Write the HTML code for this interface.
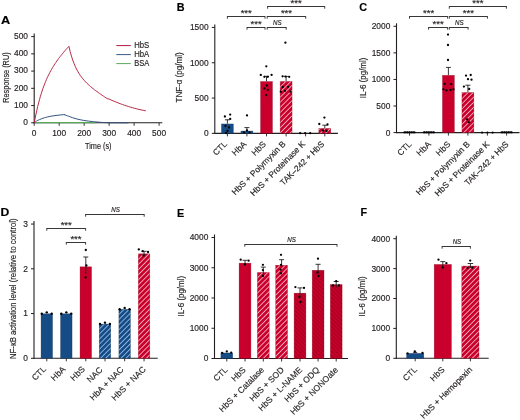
<!DOCTYPE html>
<html><head><meta charset="utf-8"><style>
html,body{margin:0;padding:0;background:#fff;}
svg{display:block;font-family:"Liberation Sans",sans-serif;will-change:transform;}
</style></head><body>
<svg width="520" height="420" viewBox="0 0 520 420" font-family="Liberation Sans, sans-serif">
<defs>
<pattern id="rh" patternUnits="userSpaceOnUse" width="3.6" height="3.6" patternTransform="rotate(45)"><rect width="3.6" height="3.6" fill="#c8002b"/><rect x="0" width="0.9" height="3.6" fill="#f7aebd"/></pattern>
<pattern id="bh" patternUnits="userSpaceOnUse" width="3.6" height="3.6" patternTransform="rotate(45)"><rect width="3.6" height="3.6" fill="#164c85"/><rect x="0" width="0.9" height="3.6" fill="#8fb8e4"/></pattern>
<pattern id="rd" patternUnits="userSpaceOnUse" width="2.9" height="2.9" patternTransform="rotate(-45)"><rect width="2.9" height="2.9" fill="#c8002b"/><rect x="0" width="1.1" height="2.9" fill="#a5001f"/></pattern>
</defs>
<rect width="520" height="420" fill="#fff"/>
<text x="0.9" y="23.8" font-size="11.8" text-anchor="start" fill="#000" stroke="#000" stroke-width="0.16" textLength="9.2" lengthAdjust="spacingAndGlyphs" font-weight="bold">A</text>
<text x="176.8" y="10.5" font-size="10.8" text-anchor="start" fill="#000" stroke="#000" stroke-width="0.16" font-weight="bold">B</text>
<text x="359.3" y="10.8" font-size="10.8" text-anchor="start" fill="#000" stroke="#000" stroke-width="0.16" font-weight="bold">C</text>
<text x="0.6" y="216.2" font-size="10.8" text-anchor="start" fill="#000" stroke="#000" stroke-width="0.16" textLength="8.8" lengthAdjust="spacingAndGlyphs" font-weight="bold">D</text>
<text x="176.9" y="216.5" font-size="10.8" text-anchor="start" fill="#000" stroke="#000" stroke-width="0.16" font-weight="bold">E</text>
<text x="360.4" y="215.9" font-size="10.8" text-anchor="start" fill="#000" stroke="#000" stroke-width="0.16" font-weight="bold">F</text>
<line x1="34.2" y1="33.6" x2="34.2" y2="123.3" stroke="#231f20" stroke-width="1.1"/>
<line x1="31.2" y1="122.8" x2="34.2" y2="122.8" stroke="#231f20" stroke-width="1.0"/>
<text x="28" y="125" font-size="8.4" text-anchor="end" fill="#231f20" stroke="#231f20" stroke-width="0.16">0</text>
<line x1="31.2" y1="105.56" x2="34.2" y2="105.56" stroke="#231f20" stroke-width="1.0"/>
<text x="28" y="107.76" font-size="8.4" text-anchor="end" fill="#231f20" stroke="#231f20" stroke-width="0.16">100</text>
<line x1="31.2" y1="88.32" x2="34.2" y2="88.32" stroke="#231f20" stroke-width="1.0"/>
<text x="28" y="90.52" font-size="8.4" text-anchor="end" fill="#231f20" stroke="#231f20" stroke-width="0.16">200</text>
<line x1="31.2" y1="71.08" x2="34.2" y2="71.08" stroke="#231f20" stroke-width="1.0"/>
<text x="28" y="73.28" font-size="8.4" text-anchor="end" fill="#231f20" stroke="#231f20" stroke-width="0.16">300</text>
<line x1="31.2" y1="53.84" x2="34.2" y2="53.84" stroke="#231f20" stroke-width="1.0"/>
<text x="28" y="56.04" font-size="8.4" text-anchor="end" fill="#231f20" stroke="#231f20" stroke-width="0.16">400</text>
<line x1="31.2" y1="36.6" x2="34.2" y2="36.6" stroke="#231f20" stroke-width="1.0"/>
<text x="28" y="38.8" font-size="8.4" text-anchor="end" fill="#231f20" stroke="#231f20" stroke-width="0.16">500</text>
<line x1="33.7" y1="122.8" x2="162.3" y2="122.8" stroke="#231f20" stroke-width="1.1"/>
<line x1="34.2" y1="122.8" x2="34.2" y2="125.8" stroke="#231f20" stroke-width="0.9"/>
<text x="34.2" y="136" font-size="8.4" text-anchor="middle" fill="#231f20" stroke="#231f20" stroke-width="0.16">0</text>
<line x1="59.18" y1="122.8" x2="59.18" y2="125.8" stroke="#231f20" stroke-width="0.9"/>
<text x="59.18" y="136" font-size="8.4" text-anchor="middle" fill="#231f20" stroke="#231f20" stroke-width="0.16">100</text>
<line x1="84.16" y1="122.8" x2="84.16" y2="125.8" stroke="#231f20" stroke-width="0.9"/>
<text x="84.16" y="136" font-size="8.4" text-anchor="middle" fill="#231f20" stroke="#231f20" stroke-width="0.16">200</text>
<line x1="109.14" y1="122.8" x2="109.14" y2="125.8" stroke="#231f20" stroke-width="0.9"/>
<text x="109.14" y="136" font-size="8.4" text-anchor="middle" fill="#231f20" stroke="#231f20" stroke-width="0.16">300</text>
<line x1="134.12" y1="122.8" x2="134.12" y2="125.8" stroke="#231f20" stroke-width="0.9"/>
<text x="134.12" y="136" font-size="8.4" text-anchor="middle" fill="#231f20" stroke="#231f20" stroke-width="0.16">400</text>
<line x1="159.1" y1="122.8" x2="159.1" y2="125.8" stroke="#231f20" stroke-width="0.9"/>
<text x="159.1" y="136" font-size="8.4" text-anchor="middle" fill="#231f20" stroke="#231f20" stroke-width="0.16">500</text>
<text x="98.3" y="149.2" font-size="8.6" text-anchor="middle" fill="#231f20" stroke="#231f20" stroke-width="0.16" textLength="26.5" lengthAdjust="spacingAndGlyphs">Time (s)</text>
<text x="9" y="77.6" font-size="8.6" text-anchor="middle" fill="#231f20" stroke="#231f20" stroke-width="0.16" transform="rotate(-90 9 77.6)" textLength="50.5" lengthAdjust="spacingAndGlyphs">Response (RU)</text>
<polyline points="34.4,122.6 60,122.6 96,122.6" fill="none" stroke="#5aa85a" stroke-width="1.1" stroke-linejoin="round"/>
<path d="M34.3,122.8 C34.55,122.6 35.23,122 35.8,121.6 C36.37,121.2 36.75,120.87 37.7,120.4 C38.65,119.93 40.38,119.23 41.5,118.8 C42.62,118.37 43.43,118.1 44.4,117.8 C45.37,117.5 46.2,117.27 47.3,117 C48.4,116.73 49.72,116.43 51,116.2 C52.28,115.97 53.67,115.78 55,115.6 C56.33,115.42 57.83,115.23 59,115.1 C60.17,114.97 61.12,114.88 62,114.8 C62.88,114.72 63.92,114.63 64.3,114.6 M64.3,114.6 C64.62,114.73 65.5,115.13 66.2,115.4 C66.9,115.67 67.48,115.83 68.5,116.2 C69.52,116.57 71.02,117.17 72.3,117.6 C73.58,118.03 74.92,118.45 76.2,118.8 C77.48,119.15 78.73,119.43 80,119.7 C81.27,119.97 82.37,120.17 83.8,120.4 C85.23,120.63 86.98,120.88 88.6,121.1 C90.22,121.32 91.93,121.53 93.5,121.7 C95.07,121.87 96.42,121.97 98,122.1 C99.58,122.23 100.87,122.38 103,122.5 C105.13,122.62 106.63,122.73 110.8,122.8 C114.97,122.87 125.13,122.88 128,122.9" fill="none" stroke="#34547f" stroke-width="1.0" stroke-linejoin="miter" stroke-linecap="round"/>
<polyline points="34.3,122.8 35.16,118.25 36.03,114.01 36.89,110.05 37.76,106.34 38.62,102.88 39.49,99.63 40.35,96.59 41.22,93.72 42.09,91.03 42.95,88.49 43.81,86.09 44.68,83.83 45.55,81.68 46.41,79.64 47.27,77.7 48.14,75.86 49,74.1 49.87,72.42 50.73,70.81 51.6,69.26 52.46,67.78 53.33,66.35 54.2,64.97 55.06,63.64 55.92,62.35 56.79,61.1 57.66,59.88 58.52,58.7 59.38,57.55 60.25,56.43 61.12,55.33 61.98,54.26 62.84,53.21 63.71,52.17 64.57,51.16 65.44,50.16 66.31,49.18 67.17,48.21 68.03,47.25 68.9,46.31 70.18,51.63 71.45,56.1 72.73,60 74.01,63.41 75.28,66.43 76.56,69.1 77.84,71.49 79.11,73.63 80.39,75.56 81.67,77.33 82.94,78.94 84.22,80.43 85.5,81.82 86.77,83.12 88.05,84.34 89.33,85.5 90.6,86.61 91.88,87.67 93.16,88.7 94.43,89.69 95.71,90.65 96.99,91.59 98.26,92.52 99.54,93.42 100.82,94.32 102.09,95.2 103.37,96.07 104.65,96.93 105.92,97.78 107.2,98.63 109.13,99.09 111.06,99.96 112.99,100.8 114.92,101.61 116.85,102.39 118.78,103.15 120.71,103.87 122.64,104.57 124.57,105.25 126.5,105.89 128.43,106.51 130.36,107.1 132.29,107.66 134.22,108.2 136.15,108.71 138.08,109.19 140.01,109.64 141.94,110.06 143.87,110.46 145.8,110.83" fill="none" stroke="#b3203f" stroke-width="0.95" stroke-linejoin="miter"/>
<line x1="116.3" y1="45.6" x2="130.8" y2="45.6" stroke="#b01a40" stroke-width="1.0"/>
<text x="134.2" y="48.3" font-size="8.6" text-anchor="start" fill="#231f20" stroke="#231f20" stroke-width="0.16" textLength="15" lengthAdjust="spacingAndGlyphs">HbS</text>
<line x1="116.3" y1="54.6" x2="130.8" y2="54.6" stroke="#34588a" stroke-width="1.0"/>
<text x="134.2" y="57.3" font-size="8.6" text-anchor="start" fill="#231f20" stroke="#231f20" stroke-width="0.16" textLength="15" lengthAdjust="spacingAndGlyphs">HbA</text>
<line x1="116.3" y1="63.6" x2="130.8" y2="63.6" stroke="#5aa85a" stroke-width="1.0"/>
<text x="134.2" y="66.3" font-size="8.6" text-anchor="start" fill="#231f20" stroke="#231f20" stroke-width="0.16" textLength="15" lengthAdjust="spacingAndGlyphs">BSA</text>
<line x1="214.8" y1="24.45" x2="214.8" y2="133.85" stroke="#231f20" stroke-width="1.1"/>
<line x1="211.8" y1="133.35" x2="214.8" y2="133.35" stroke="#231f20" stroke-width="1.0"/>
<text x="208.6" y="136.25" font-size="8.4" text-anchor="end" fill="#231f20" stroke="#231f20" stroke-width="0.16">0</text>
<line x1="211.8" y1="98.05" x2="214.8" y2="98.05" stroke="#231f20" stroke-width="1.0"/>
<text x="208.6" y="100.95" font-size="8.4" text-anchor="end" fill="#231f20" stroke="#231f20" stroke-width="0.16">500</text>
<line x1="211.8" y1="62.75" x2="214.8" y2="62.75" stroke="#231f20" stroke-width="1.0"/>
<text x="208.6" y="65.65" font-size="8.4" text-anchor="end" fill="#231f20" stroke="#231f20" stroke-width="0.16">1000</text>
<line x1="211.8" y1="27.45" x2="214.8" y2="27.45" stroke="#231f20" stroke-width="1.0"/>
<text x="208.6" y="30.35" font-size="8.4" text-anchor="end" fill="#231f20" stroke="#231f20" stroke-width="0.16">1500</text>
<line x1="214.3" y1="133.35" x2="337.9" y2="133.35" stroke="#231f20" stroke-width="1.1"/>
<text x="182.5" y="77.4" font-size="8.2" text-anchor="middle" fill="#231f20" stroke="#231f20" stroke-width="0.16" transform="rotate(-90 182.5 77.4)" textLength="50" lengthAdjust="spacingAndGlyphs">TNF-α (pg/ml)</text>
<rect x="221.45" y="123.95" width="11.9" height="9.4" fill="#164c85" stroke="#0e2f55" stroke-width="0.5" stroke-opacity="0.6"/>
<rect x="240.95" y="131.05" width="11.9" height="2.3" fill="#164c85" stroke="#0e2f55" stroke-width="0.5" stroke-opacity="0.6"/>
<rect x="260.55" y="81.55" width="11.9" height="51.8" fill="#c8002b" stroke="#8a0018" stroke-width="0.5" stroke-opacity="0.6"/>
<rect x="280.15" y="81.45" width="11.9" height="51.9" fill="url(#rh)" stroke="#8a0018" stroke-width="0.5" stroke-opacity="0.6"/>
<rect x="318.85" y="128.45" width="11.9" height="4.9" fill="url(#rh)" stroke="#8a0018" stroke-width="0.5" stroke-opacity="0.6"/>
<line x1="227.4" y1="123.7" x2="227.4" y2="119.8" stroke="#231f20" stroke-width="0.9"/>
<line x1="224.9" y1="119.8" x2="229.9" y2="119.8" stroke="#231f20" stroke-width="0.9"/>
<line x1="246.9" y1="130.8" x2="246.9" y2="127.6" stroke="#231f20" stroke-width="0.9"/>
<line x1="244.4" y1="127.6" x2="249.4" y2="127.6" stroke="#231f20" stroke-width="0.9"/>
<line x1="266.5" y1="81.3" x2="266.5" y2="76.3" stroke="#231f20" stroke-width="0.9"/>
<line x1="264" y1="76.3" x2="269" y2="76.3" stroke="#231f20" stroke-width="0.9"/>
<line x1="286.1" y1="81.2" x2="286.1" y2="76.4" stroke="#231f20" stroke-width="0.9"/>
<line x1="283.6" y1="76.4" x2="288.6" y2="76.4" stroke="#231f20" stroke-width="0.9"/>
<line x1="324.8" y1="128.2" x2="324.8" y2="125.2" stroke="#231f20" stroke-width="0.9"/>
<line x1="322.3" y1="125.2" x2="327.3" y2="125.2" stroke="#231f20" stroke-width="0.9"/>
<circle cx="224.9" cy="116.5" r="1.15" fill="#000"/>
<circle cx="230.2" cy="114.6" r="1.15" fill="#000"/>
<circle cx="230.2" cy="118.9" r="1.15" fill="#000"/>
<circle cx="225.5" cy="126" r="1.15" fill="#000"/>
<circle cx="229" cy="127.5" r="1.15" fill="#000"/>
<circle cx="227.5" cy="131" r="1.15" fill="#000"/>
<circle cx="226" cy="133" r="1.15" fill="#000"/>
<circle cx="247" cy="115.4" r="1.15" fill="#000"/>
<circle cx="244" cy="132.3" r="1.15" fill="#000"/>
<circle cx="249.5" cy="132.3" r="1.15" fill="#000"/>
<circle cx="247" cy="130.5" r="1.15" fill="#000"/>
<circle cx="266.3" cy="66.3" r="1.15" fill="#000"/>
<circle cx="260.8" cy="74.9" r="1.15" fill="#000"/>
<circle cx="264.4" cy="76.8" r="1.15" fill="#000"/>
<circle cx="267.8" cy="76.8" r="1.15" fill="#000"/>
<circle cx="271.6" cy="74.9" r="1.15" fill="#000"/>
<circle cx="266.8" cy="85.5" r="1.15" fill="#000"/>
<circle cx="264.4" cy="88.4" r="1.15" fill="#000"/>
<circle cx="267.8" cy="89.8" r="1.15" fill="#000"/>
<circle cx="266.3" cy="95.1" r="1.15" fill="#000"/>
<circle cx="282.6" cy="76.3" r="1.15" fill="#000"/>
<circle cx="285.6" cy="76.6" r="1.15" fill="#000"/>
<circle cx="289.2" cy="76.8" r="1.15" fill="#000"/>
<circle cx="285.4" cy="42.7" r="1.15" fill="#000"/>
<circle cx="282.7" cy="87" r="1.15" fill="#000"/>
<circle cx="288" cy="87" r="1.15" fill="#000"/>
<circle cx="280.8" cy="91.7" r="1.15" fill="#000"/>
<circle cx="285" cy="90.8" r="1.15" fill="#000"/>
<circle cx="290.4" cy="91.7" r="1.15" fill="#000"/>
<circle cx="300.2" cy="133.2" r="1.15" fill="#000"/>
<circle cx="305.2" cy="133.2" r="1.15" fill="#000"/>
<circle cx="310.2" cy="133.2" r="1.15" fill="#000"/>
<circle cx="324.4" cy="117.6" r="1.15" fill="#000"/>
<circle cx="319.3" cy="124" r="1.15" fill="#000"/>
<circle cx="327.5" cy="124.5" r="1.15" fill="#000"/>
<circle cx="323" cy="130.5" r="1.15" fill="#000"/>
<circle cx="326.5" cy="131" r="1.15" fill="#000"/>
<line x1="227.4" y1="133.35" x2="227.4" y2="136.35" stroke="#231f20" stroke-width="0.9"/>
<line x1="246.9" y1="133.35" x2="246.9" y2="136.35" stroke="#231f20" stroke-width="0.9"/>
<line x1="266.5" y1="133.35" x2="266.5" y2="136.35" stroke="#231f20" stroke-width="0.9"/>
<line x1="286.1" y1="133.35" x2="286.1" y2="136.35" stroke="#231f20" stroke-width="0.9"/>
<line x1="305.6" y1="133.35" x2="305.6" y2="136.35" stroke="#231f20" stroke-width="0.9"/>
<line x1="324.8" y1="133.35" x2="324.8" y2="136.35" stroke="#231f20" stroke-width="0.9"/>
<text x="227.5" y="144.65" font-size="8.5" text-anchor="end" fill="#231f20" stroke="#231f20" stroke-width="0.16" transform="rotate(-45 227.5 144.65)">CTL</text>
<text x="247" y="144.65" font-size="8.5" text-anchor="end" fill="#231f20" stroke="#231f20" stroke-width="0.16" transform="rotate(-45 247 144.65)">HbA</text>
<text x="266.6" y="144.65" font-size="8.5" text-anchor="end" fill="#231f20" stroke="#231f20" stroke-width="0.16" transform="rotate(-45 266.6 144.65)">HbS</text>
<text x="286.2" y="144.65" font-size="8.5" text-anchor="end" fill="#231f20" stroke="#231f20" stroke-width="0.16" transform="rotate(-45 286.2 144.65)" textLength="72" lengthAdjust="spacingAndGlyphs">HbS + Polymyxin B</text>
<text x="305.7" y="144.65" font-size="8.5" text-anchor="end" fill="#231f20" stroke="#231f20" stroke-width="0.16" transform="rotate(-45 305.7 144.65)" textLength="73.3" lengthAdjust="spacingAndGlyphs">HbS + Proteinase K</text>
<text x="324.9" y="144.65" font-size="8.5" text-anchor="end" fill="#231f20" stroke="#231f20" stroke-width="0.16" transform="rotate(-45 324.9 144.65)" textLength="58.4" lengthAdjust="spacingAndGlyphs">TAK–242 + HbS</text>
<line x1="267.6" y1="6.5" x2="324.7" y2="6.5" stroke="#231f20" stroke-width="0.9"/>
<line x1="267.6" y1="6.05" x2="267.6" y2="8.7" stroke="#231f20" stroke-width="0.85"/>
<line x1="324.7" y1="6.05" x2="324.7" y2="8.7" stroke="#231f20" stroke-width="0.85"/>
<text x="296.2" y="6.4" font-size="9.5" text-anchor="middle" fill="#231f20" stroke="#231f20" stroke-width="0.16" letter-spacing="0.05">***</text>
<line x1="227.4" y1="16.5" x2="265" y2="16.5" stroke="#231f20" stroke-width="0.9"/>
<line x1="227.4" y1="16.05" x2="227.4" y2="18.7" stroke="#231f20" stroke-width="0.85"/>
<line x1="265" y1="16.05" x2="265" y2="18.7" stroke="#231f20" stroke-width="0.85"/>
<text x="246.25" y="16.4" font-size="9.5" text-anchor="middle" fill="#231f20" stroke="#231f20" stroke-width="0.16" letter-spacing="0.05">***</text>
<line x1="267.2" y1="16.5" x2="305.7" y2="16.5" stroke="#231f20" stroke-width="0.9"/>
<line x1="267.2" y1="16.05" x2="267.2" y2="18.7" stroke="#231f20" stroke-width="0.85"/>
<line x1="305.7" y1="16.05" x2="305.7" y2="18.7" stroke="#231f20" stroke-width="0.85"/>
<text x="286.5" y="16.4" font-size="9.5" text-anchor="middle" fill="#231f20" stroke="#231f20" stroke-width="0.16" letter-spacing="0.05">***</text>
<line x1="247" y1="27.5" x2="265" y2="27.5" stroke="#231f20" stroke-width="0.9"/>
<line x1="247" y1="27.05" x2="247" y2="29.7" stroke="#231f20" stroke-width="0.85"/>
<line x1="265" y1="27.05" x2="265" y2="29.7" stroke="#231f20" stroke-width="0.85"/>
<text x="256.05" y="27.4" font-size="9.5" text-anchor="middle" fill="#231f20" stroke="#231f20" stroke-width="0.16" letter-spacing="0.05">***</text>
<line x1="267.2" y1="27.5" x2="286.2" y2="27.5" stroke="#231f20" stroke-width="0.9"/>
<line x1="267.2" y1="27.05" x2="267.2" y2="29.7" stroke="#231f20" stroke-width="0.85"/>
<line x1="286.2" y1="27.05" x2="286.2" y2="29.7" stroke="#231f20" stroke-width="0.85"/>
<text x="277.4" y="25.1" font-size="7" text-anchor="middle" fill="#231f20" stroke="#231f20" stroke-width="0.16" textLength="8.6" lengthAdjust="spacingAndGlyphs" font-style="italic">NS</text>
<line x1="396.5" y1="23.3" x2="396.5" y2="133.1" stroke="#231f20" stroke-width="1.1"/>
<line x1="393.5" y1="132.6" x2="396.5" y2="132.6" stroke="#231f20" stroke-width="1.0"/>
<text x="390.3" y="135.5" font-size="8.4" text-anchor="end" fill="#231f20" stroke="#231f20" stroke-width="0.16">0</text>
<line x1="393.5" y1="106.02" x2="396.5" y2="106.02" stroke="#231f20" stroke-width="1.0"/>
<text x="390.3" y="108.92" font-size="8.4" text-anchor="end" fill="#231f20" stroke="#231f20" stroke-width="0.16">500</text>
<line x1="393.5" y1="79.45" x2="396.5" y2="79.45" stroke="#231f20" stroke-width="1.0"/>
<text x="390.3" y="82.35" font-size="8.4" text-anchor="end" fill="#231f20" stroke="#231f20" stroke-width="0.16">1000</text>
<line x1="393.5" y1="52.87" x2="396.5" y2="52.87" stroke="#231f20" stroke-width="1.0"/>
<text x="390.3" y="55.77" font-size="8.4" text-anchor="end" fill="#231f20" stroke="#231f20" stroke-width="0.16">1500</text>
<line x1="393.5" y1="26.3" x2="396.5" y2="26.3" stroke="#231f20" stroke-width="1.0"/>
<text x="390.3" y="29.2" font-size="8.4" text-anchor="end" fill="#231f20" stroke="#231f20" stroke-width="0.16">2000</text>
<line x1="396" y1="132.6" x2="519.5" y2="132.6" stroke="#231f20" stroke-width="1.1"/>
<text x="365.6" y="77.9" font-size="8.4" text-anchor="middle" fill="#231f20" stroke="#231f20" stroke-width="0.16" transform="rotate(-90 365.6 77.9)" textLength="40.5" lengthAdjust="spacingAndGlyphs">IL-6 (pg/ml)</text>
<rect x="442.45" y="75.35" width="11.9" height="57.25" fill="#c8002b" stroke="#8a0018" stroke-width="0.5" stroke-opacity="0.6"/>
<rect x="461.95" y="92.55" width="11.9" height="40.05" fill="url(#rh)" stroke="#8a0018" stroke-width="0.5" stroke-opacity="0.6"/>
<line x1="448.4" y1="75.1" x2="448.4" y2="67.4" stroke="#231f20" stroke-width="0.9"/>
<line x1="445.9" y1="67.4" x2="450.9" y2="67.4" stroke="#231f20" stroke-width="0.9"/>
<line x1="467.9" y1="92.3" x2="467.9" y2="85.2" stroke="#231f20" stroke-width="0.9"/>
<line x1="465.4" y1="85.2" x2="470.4" y2="85.2" stroke="#231f20" stroke-width="0.9"/>
<line x1="403.5" y1="132.4" x2="415.5" y2="132.4" stroke="#000" stroke-width="1.6"/>
<circle cx="405" cy="132.3" r="0.95" fill="#000"/>
<circle cx="407.3" cy="132.3" r="0.95" fill="#000"/>
<circle cx="409.5" cy="132.3" r="0.95" fill="#000"/>
<circle cx="411.7" cy="132.3" r="0.95" fill="#000"/>
<circle cx="414" cy="132.3" r="0.95" fill="#000"/>
<line x1="422.9" y1="132.4" x2="434.9" y2="132.4" stroke="#000" stroke-width="1.6"/>
<circle cx="424.4" cy="132.3" r="0.95" fill="#000"/>
<circle cx="426.7" cy="132.3" r="0.95" fill="#000"/>
<circle cx="428.9" cy="132.3" r="0.95" fill="#000"/>
<circle cx="431.1" cy="132.3" r="0.95" fill="#000"/>
<circle cx="433.4" cy="132.3" r="0.95" fill="#000"/>
<line x1="500.6" y1="132.4" x2="512.6" y2="132.4" stroke="#000" stroke-width="1.6"/>
<circle cx="502.1" cy="132.3" r="0.95" fill="#000"/>
<circle cx="504.4" cy="132.3" r="0.95" fill="#000"/>
<circle cx="506.6" cy="132.3" r="0.95" fill="#000"/>
<circle cx="508.8" cy="132.3" r="0.95" fill="#000"/>
<circle cx="511.1" cy="132.3" r="0.95" fill="#000"/>
<circle cx="482.1" cy="132.6" r="1.05" fill="#000"/>
<circle cx="487.4" cy="132.6" r="1.05" fill="#000"/>
<circle cx="492.6" cy="132.6" r="1.05" fill="#000"/>
<circle cx="448" cy="34.6" r="1.15" fill="#000"/>
<circle cx="448" cy="45" r="1.15" fill="#000"/>
<circle cx="448" cy="60" r="1.15" fill="#000"/>
<circle cx="443.4" cy="89.3" r="1.15" fill="#000"/>
<circle cx="446.5" cy="90.4" r="1.15" fill="#000"/>
<circle cx="450.5" cy="90" r="1.15" fill="#000"/>
<circle cx="453.5" cy="89.3" r="1.15" fill="#000"/>
<circle cx="444.7" cy="83.8" r="1.15" fill="#000"/>
<circle cx="451.2" cy="84.2" r="1.15" fill="#000"/>
<circle cx="466" cy="75.6" r="1.15" fill="#000"/>
<circle cx="470.7" cy="75" r="1.15" fill="#000"/>
<circle cx="468" cy="79.2" r="1.15" fill="#000"/>
<circle cx="471.5" cy="79.7" r="1.15" fill="#000"/>
<circle cx="463.9" cy="86.6" r="1.15" fill="#000"/>
<circle cx="469.2" cy="89" r="1.15" fill="#000"/>
<circle cx="467.2" cy="119.4" r="1.15" fill="#000"/>
<circle cx="468.8" cy="122.2" r="1.15" fill="#000"/>
<line x1="409.5" y1="132.6" x2="409.5" y2="135.6" stroke="#231f20" stroke-width="0.9"/>
<line x1="428.9" y1="132.6" x2="428.9" y2="135.6" stroke="#231f20" stroke-width="0.9"/>
<line x1="448.4" y1="132.6" x2="448.4" y2="135.6" stroke="#231f20" stroke-width="0.9"/>
<line x1="467.9" y1="132.6" x2="467.9" y2="135.6" stroke="#231f20" stroke-width="0.9"/>
<line x1="487.4" y1="132.6" x2="487.4" y2="135.6" stroke="#231f20" stroke-width="0.9"/>
<line x1="506.6" y1="132.6" x2="506.6" y2="135.6" stroke="#231f20" stroke-width="0.9"/>
<text x="412.1" y="144.8" font-size="8.5" text-anchor="end" fill="#231f20" stroke="#231f20" stroke-width="0.16" transform="rotate(-45 412.1 144.8)">CTL</text>
<text x="431.5" y="144.8" font-size="8.5" text-anchor="end" fill="#231f20" stroke="#231f20" stroke-width="0.16" transform="rotate(-45 431.5 144.8)">HbA</text>
<text x="451" y="144.8" font-size="8.5" text-anchor="end" fill="#231f20" stroke="#231f20" stroke-width="0.16" transform="rotate(-45 451 144.8)">HbS</text>
<text x="470.5" y="144.8" font-size="8.5" text-anchor="end" fill="#231f20" stroke="#231f20" stroke-width="0.16" transform="rotate(-45 470.5 144.8)" textLength="72" lengthAdjust="spacingAndGlyphs">HbS + Polymyxin B</text>
<text x="490" y="144.8" font-size="8.5" text-anchor="end" fill="#231f20" stroke="#231f20" stroke-width="0.16" transform="rotate(-45 490 144.8)" textLength="73.3" lengthAdjust="spacingAndGlyphs">HbS + Proteinase K</text>
<text x="509.2" y="144.8" font-size="8.5" text-anchor="end" fill="#231f20" stroke="#231f20" stroke-width="0.16" transform="rotate(-45 509.2 144.8)" textLength="58.4" lengthAdjust="spacingAndGlyphs">TAK–242 + HbS</text>
<line x1="449.3" y1="6.5" x2="506.4" y2="6.5" stroke="#231f20" stroke-width="0.9"/>
<line x1="449.3" y1="6.05" x2="449.3" y2="8.7" stroke="#231f20" stroke-width="0.85"/>
<line x1="506.4" y1="6.05" x2="506.4" y2="8.7" stroke="#231f20" stroke-width="0.85"/>
<text x="477.9" y="6.4" font-size="9.5" text-anchor="middle" fill="#231f20" stroke="#231f20" stroke-width="0.16" letter-spacing="0.05">***</text>
<line x1="409.5" y1="16.5" x2="447.6" y2="16.5" stroke="#231f20" stroke-width="0.9"/>
<line x1="409.5" y1="16.05" x2="409.5" y2="18.7" stroke="#231f20" stroke-width="0.85"/>
<line x1="447.6" y1="16.05" x2="447.6" y2="18.7" stroke="#231f20" stroke-width="0.85"/>
<text x="428.6" y="16.4" font-size="9.5" text-anchor="middle" fill="#231f20" stroke="#231f20" stroke-width="0.16" letter-spacing="0.05">***</text>
<line x1="449.3" y1="16.5" x2="487.4" y2="16.5" stroke="#231f20" stroke-width="0.9"/>
<line x1="449.3" y1="16.05" x2="449.3" y2="18.7" stroke="#231f20" stroke-width="0.85"/>
<line x1="487.4" y1="16.05" x2="487.4" y2="18.7" stroke="#231f20" stroke-width="0.85"/>
<text x="468.4" y="16.4" font-size="9.5" text-anchor="middle" fill="#231f20" stroke="#231f20" stroke-width="0.16" letter-spacing="0.05">***</text>
<line x1="428.6" y1="27.5" x2="447.6" y2="27.5" stroke="#231f20" stroke-width="0.9"/>
<line x1="428.6" y1="27.05" x2="428.6" y2="29.7" stroke="#231f20" stroke-width="0.85"/>
<line x1="447.6" y1="27.05" x2="447.6" y2="29.7" stroke="#231f20" stroke-width="0.85"/>
<text x="438.15" y="27.4" font-size="9.5" text-anchor="middle" fill="#231f20" stroke="#231f20" stroke-width="0.16" letter-spacing="0.05">***</text>
<line x1="449.3" y1="27.5" x2="468.1" y2="27.5" stroke="#231f20" stroke-width="0.9"/>
<line x1="449.3" y1="27.05" x2="449.3" y2="29.7" stroke="#231f20" stroke-width="0.85"/>
<line x1="468.1" y1="27.05" x2="468.1" y2="29.7" stroke="#231f20" stroke-width="0.85"/>
<text x="459.4" y="25.1" font-size="7" text-anchor="middle" fill="#231f20" stroke="#231f20" stroke-width="0.16" textLength="8.6" lengthAdjust="spacingAndGlyphs" font-style="italic">NS</text>
<line x1="34" y1="221.05" x2="34" y2="358.8" stroke="#231f20" stroke-width="1.1"/>
<line x1="31" y1="358.3" x2="34" y2="358.3" stroke="#231f20" stroke-width="1.0"/>
<text x="27.8" y="361.2" font-size="8.4" text-anchor="end" fill="#231f20" stroke="#231f20" stroke-width="0.16">0</text>
<line x1="31" y1="313.55" x2="34" y2="313.55" stroke="#231f20" stroke-width="1.0"/>
<text x="27.8" y="316.45" font-size="8.4" text-anchor="end" fill="#231f20" stroke="#231f20" stroke-width="0.16">1</text>
<line x1="31" y1="268.8" x2="34" y2="268.8" stroke="#231f20" stroke-width="1.0"/>
<text x="27.8" y="271.7" font-size="8.4" text-anchor="end" fill="#231f20" stroke="#231f20" stroke-width="0.16">2</text>
<line x1="31" y1="224.05" x2="34" y2="224.05" stroke="#231f20" stroke-width="1.0"/>
<text x="27.8" y="226.95" font-size="8.4" text-anchor="end" fill="#231f20" stroke="#231f20" stroke-width="0.16">3</text>
<line x1="33.5" y1="358.3" x2="157.7" y2="358.3" stroke="#231f20" stroke-width="1.1"/>
<text x="16.5" y="288.7" font-size="8.2" text-anchor="middle" fill="#231f20" stroke="#231f20" stroke-width="0.16" transform="rotate(-90 16.5 288.7)" textLength="140.5" lengthAdjust="spacingAndGlyphs">NF-κB activation level (relative to control)</text>
<rect x="41.05" y="313.8" width="11.5" height="44.5" fill="#164c85" stroke="#0e2f55" stroke-width="0.5" stroke-opacity="0.6"/>
<rect x="60.55" y="313.8" width="11.5" height="44.5" fill="#164c85" stroke="#0e2f55" stroke-width="0.5" stroke-opacity="0.6"/>
<rect x="80.05" y="266.81" width="11.5" height="91.49" fill="#c8002b" stroke="#8a0018" stroke-width="0.5" stroke-opacity="0.6"/>
<rect x="99.25" y="324.09" width="11.5" height="34.21" fill="url(#bh)" stroke="#0e2f55" stroke-width="0.5" stroke-opacity="0.6"/>
<rect x="118.9" y="309.32" width="11.5" height="48.98" fill="url(#bh)" stroke="#0e2f55" stroke-width="0.5" stroke-opacity="0.6"/>
<rect x="138.3" y="253.84" width="11.5" height="104.46" fill="url(#rh)" stroke="#8a0018" stroke-width="0.5" stroke-opacity="0.6"/>
<line x1="85.8" y1="274.5" x2="85.8" y2="257" stroke="#231f20" stroke-width="0.9"/>
<line x1="83.3" y1="257" x2="88.3" y2="257" stroke="#231f20" stroke-width="0.9"/>
<line x1="144.05" y1="256.5" x2="144.05" y2="251.3" stroke="#231f20" stroke-width="0.9"/>
<line x1="141.55" y1="251.3" x2="146.55" y2="251.3" stroke="#231f20" stroke-width="0.9"/>
<circle cx="41.8" cy="313.75" r="1.2" fill="#000"/>
<circle cx="46.8" cy="312.35" r="1.2" fill="#000"/>
<circle cx="51.7" cy="313.65" r="1.2" fill="#000"/>
<circle cx="61.3" cy="313.75" r="1.2" fill="#000"/>
<circle cx="66.3" cy="312.35" r="1.2" fill="#000"/>
<circle cx="71.2" cy="313.65" r="1.2" fill="#000"/>
<circle cx="100" cy="324.04" r="1.2" fill="#000"/>
<circle cx="105" cy="322.64" r="1.2" fill="#000"/>
<circle cx="109.9" cy="323.94" r="1.2" fill="#000"/>
<circle cx="119.65" cy="309.27" r="1.2" fill="#000"/>
<circle cx="124.65" cy="307.88" r="1.2" fill="#000"/>
<circle cx="129.55" cy="309.18" r="1.2" fill="#000"/>
<circle cx="85.8" cy="250" r="1.15" fill="#000"/>
<circle cx="86.4" cy="265.5" r="1.15" fill="#000"/>
<circle cx="85.6" cy="277.5" r="1.15" fill="#000"/>
<circle cx="138.8" cy="249.4" r="1.15" fill="#000"/>
<circle cx="142.7" cy="251.2" r="1.15" fill="#000"/>
<circle cx="148" cy="252" r="1.15" fill="#000"/>
<circle cx="143.5" cy="255.5" r="1.15" fill="#000"/>
<line x1="46.8" y1="358.3" x2="46.8" y2="361.3" stroke="#231f20" stroke-width="0.9"/>
<line x1="66.3" y1="358.3" x2="66.3" y2="361.3" stroke="#231f20" stroke-width="0.9"/>
<line x1="85.8" y1="358.3" x2="85.8" y2="361.3" stroke="#231f20" stroke-width="0.9"/>
<line x1="105" y1="358.3" x2="105" y2="361.3" stroke="#231f20" stroke-width="0.9"/>
<line x1="124.65" y1="358.3" x2="124.65" y2="361.3" stroke="#231f20" stroke-width="0.9"/>
<line x1="144.05" y1="358.3" x2="144.05" y2="361.3" stroke="#231f20" stroke-width="0.9"/>
<text x="46.5" y="369.7" font-size="8.5" text-anchor="end" fill="#231f20" stroke="#231f20" stroke-width="0.16" transform="rotate(-45 46.5 369.7)">CTL</text>
<text x="66" y="369.7" font-size="8.5" text-anchor="end" fill="#231f20" stroke="#231f20" stroke-width="0.16" transform="rotate(-45 66 369.7)">HbA</text>
<text x="85.5" y="369.7" font-size="8.5" text-anchor="end" fill="#231f20" stroke="#231f20" stroke-width="0.16" transform="rotate(-45 85.5 369.7)">HbS</text>
<text x="103" y="370.3" font-size="8.5" text-anchor="end" fill="#231f20" stroke="#231f20" stroke-width="0.16" transform="rotate(-45 103 370.3)">NAC</text>
<text x="124.05" y="370.1" font-size="8.5" text-anchor="end" fill="#231f20" stroke="#231f20" stroke-width="0.16" transform="rotate(-45 124.05 370.1)">HbA + NAC</text>
<text x="146.25" y="369.9" font-size="8.5" text-anchor="end" fill="#231f20" stroke="#231f20" stroke-width="0.16" transform="rotate(-45 146.25 369.9)">HbS + NAC</text>
<line x1="46.8" y1="228.5" x2="85.6" y2="228.5" stroke="#231f20" stroke-width="0.9"/>
<line x1="46.8" y1="228.05" x2="46.8" y2="230.7" stroke="#231f20" stroke-width="0.85"/>
<line x1="85.6" y1="228.05" x2="85.6" y2="230.7" stroke="#231f20" stroke-width="0.85"/>
<text x="66.25" y="228.4" font-size="9.5" text-anchor="middle" fill="#231f20" stroke="#231f20" stroke-width="0.16" letter-spacing="0.05">***</text>
<line x1="66.3" y1="242.5" x2="85.6" y2="242.5" stroke="#231f20" stroke-width="0.9"/>
<line x1="66.3" y1="242.05" x2="66.3" y2="244.7" stroke="#231f20" stroke-width="0.85"/>
<line x1="85.6" y1="242.05" x2="85.6" y2="244.7" stroke="#231f20" stroke-width="0.85"/>
<text x="76" y="242.4" font-size="9.5" text-anchor="middle" fill="#231f20" stroke="#231f20" stroke-width="0.16" letter-spacing="0.05">***</text>
<line x1="85.6" y1="214.5" x2="144.2" y2="214.5" stroke="#231f20" stroke-width="0.9"/>
<line x1="85.6" y1="214.05" x2="85.6" y2="216.7" stroke="#231f20" stroke-width="0.85"/>
<line x1="144.2" y1="214.05" x2="144.2" y2="216.7" stroke="#231f20" stroke-width="0.85"/>
<text x="115.6" y="212.1" font-size="7" text-anchor="middle" fill="#231f20" stroke="#231f20" stroke-width="0.16" textLength="8.6" lengthAdjust="spacingAndGlyphs" font-style="italic">NS</text>
<line x1="214.5" y1="234.5" x2="214.5" y2="359" stroke="#231f20" stroke-width="1.1"/>
<line x1="211.5" y1="358.5" x2="214.5" y2="358.5" stroke="#231f20" stroke-width="1.0"/>
<text x="208.3" y="361.4" font-size="8.4" text-anchor="end" fill="#231f20" stroke="#231f20" stroke-width="0.16">0</text>
<line x1="211.5" y1="328.25" x2="214.5" y2="328.25" stroke="#231f20" stroke-width="1.0"/>
<text x="208.3" y="331.15" font-size="8.4" text-anchor="end" fill="#231f20" stroke="#231f20" stroke-width="0.16">1000</text>
<line x1="211.5" y1="298" x2="214.5" y2="298" stroke="#231f20" stroke-width="1.0"/>
<text x="208.3" y="300.9" font-size="8.4" text-anchor="end" fill="#231f20" stroke="#231f20" stroke-width="0.16">2000</text>
<line x1="211.5" y1="267.75" x2="214.5" y2="267.75" stroke="#231f20" stroke-width="1.0"/>
<text x="208.3" y="270.65" font-size="8.4" text-anchor="end" fill="#231f20" stroke="#231f20" stroke-width="0.16">3000</text>
<line x1="211.5" y1="237.5" x2="214.5" y2="237.5" stroke="#231f20" stroke-width="1.0"/>
<text x="208.3" y="240.4" font-size="8.4" text-anchor="end" fill="#231f20" stroke="#231f20" stroke-width="0.16">4000</text>
<line x1="214" y1="358.5" x2="348" y2="358.5" stroke="#231f20" stroke-width="1.1"/>
<text x="184.1" y="296.2" font-size="8.4" text-anchor="middle" fill="#231f20" stroke="#231f20" stroke-width="0.16" transform="rotate(-90 184.1 296.2)" textLength="40.6" lengthAdjust="spacingAndGlyphs">IL-6 (pg/ml)</text>
<rect x="220.9" y="352.95" width="11.8" height="5.55" fill="#164c85" stroke="#0e2f55" stroke-width="0.5" stroke-opacity="0.6"/>
<rect x="239.1" y="263.15" width="11.8" height="95.35" fill="#c8002b" stroke="#8a0018" stroke-width="0.5" stroke-opacity="0.6"/>
<rect x="257.4" y="272.45" width="11.8" height="86.05" fill="url(#rh)" stroke="#8a0018" stroke-width="0.5" stroke-opacity="0.6"/>
<rect x="275.7" y="265.25" width="11.8" height="93.25" fill="url(#rh)" stroke="#8a0018" stroke-width="0.5" stroke-opacity="0.6"/>
<rect x="294.1" y="293.15" width="11.8" height="65.35" fill="url(#rd)" stroke="#8a0018" stroke-width="0.5" stroke-opacity="0.6"/>
<rect x="312.2" y="270.25" width="11.8" height="88.25" fill="url(#rd)" stroke="#8a0018" stroke-width="0.5" stroke-opacity="0.6"/>
<rect x="330.3" y="284.55" width="11.8" height="73.95" fill="url(#rd)" stroke="#8a0018" stroke-width="0.5" stroke-opacity="0.6"/>
<line x1="245" y1="265.9" x2="245" y2="260.3" stroke="#231f20" stroke-width="0.9"/>
<line x1="242.5" y1="260.3" x2="247.5" y2="260.3" stroke="#231f20" stroke-width="0.9"/>
<line x1="263.3" y1="275.2" x2="263.3" y2="267.1" stroke="#231f20" stroke-width="0.9"/>
<line x1="260.8" y1="267.1" x2="265.8" y2="267.1" stroke="#231f20" stroke-width="0.9"/>
<line x1="281.6" y1="268" x2="281.6" y2="259.7" stroke="#231f20" stroke-width="0.9"/>
<line x1="279.1" y1="259.7" x2="284.1" y2="259.7" stroke="#231f20" stroke-width="0.9"/>
<line x1="300" y1="295.9" x2="300" y2="287.9" stroke="#231f20" stroke-width="0.9"/>
<line x1="297.5" y1="287.9" x2="302.5" y2="287.9" stroke="#231f20" stroke-width="0.9"/>
<line x1="318.1" y1="273" x2="318.1" y2="264.3" stroke="#231f20" stroke-width="0.9"/>
<line x1="315.6" y1="264.3" x2="320.6" y2="264.3" stroke="#231f20" stroke-width="0.9"/>
<line x1="336.2" y1="287.3" x2="336.2" y2="281.5" stroke="#231f20" stroke-width="0.9"/>
<line x1="333.7" y1="281.5" x2="338.7" y2="281.5" stroke="#231f20" stroke-width="0.9"/>
<circle cx="222.2" cy="352.9" r="1.15" fill="#000"/>
<circle cx="226.8" cy="351.4" r="1.15" fill="#000"/>
<circle cx="231.2" cy="352.6" r="1.15" fill="#000"/>
<circle cx="240.7" cy="259.7" r="1.15" fill="#000"/>
<circle cx="245" cy="264.3" r="1.15" fill="#000"/>
<circle cx="248.6" cy="260.7" r="1.15" fill="#000"/>
<circle cx="262.9" cy="264.8" r="1.15" fill="#000"/>
<circle cx="262.9" cy="270.1" r="1.15" fill="#000"/>
<circle cx="262.9" cy="275.9" r="1.15" fill="#000"/>
<circle cx="281" cy="254.8" r="1.15" fill="#000"/>
<circle cx="281" cy="264.8" r="1.15" fill="#000"/>
<circle cx="280.5" cy="269.6" r="1.15" fill="#000"/>
<circle cx="281" cy="273.3" r="1.15" fill="#000"/>
<circle cx="295.4" cy="287.1" r="1.15" fill="#000"/>
<circle cx="304" cy="287.9" r="1.15" fill="#000"/>
<circle cx="299.5" cy="297" r="1.15" fill="#000"/>
<circle cx="300.5" cy="302" r="1.15" fill="#000"/>
<circle cx="318" cy="258.7" r="1.15" fill="#000"/>
<circle cx="317.5" cy="272.5" r="1.15" fill="#000"/>
<circle cx="318.5" cy="276" r="1.15" fill="#000"/>
<circle cx="336.2" cy="281.2" r="1.15" fill="#000"/>
<circle cx="333" cy="285.5" r="1.15" fill="#000"/>
<circle cx="339" cy="285.5" r="1.15" fill="#000"/>
<line x1="226.8" y1="358.5" x2="226.8" y2="361.5" stroke="#231f20" stroke-width="0.9"/>
<line x1="245" y1="358.5" x2="245" y2="361.5" stroke="#231f20" stroke-width="0.9"/>
<line x1="263.3" y1="358.5" x2="263.3" y2="361.5" stroke="#231f20" stroke-width="0.9"/>
<line x1="281.6" y1="358.5" x2="281.6" y2="361.5" stroke="#231f20" stroke-width="0.9"/>
<line x1="300" y1="358.5" x2="300" y2="361.5" stroke="#231f20" stroke-width="0.9"/>
<line x1="318.1" y1="358.5" x2="318.1" y2="361.5" stroke="#231f20" stroke-width="0.9"/>
<line x1="336.2" y1="358.5" x2="336.2" y2="361.5" stroke="#231f20" stroke-width="0.9"/>
<text x="228.2" y="370.4" font-size="8.5" text-anchor="end" fill="#231f20" stroke="#231f20" stroke-width="0.16" transform="rotate(-45 228.2 370.4)">CTL</text>
<text x="246.4" y="370.4" font-size="8.5" text-anchor="end" fill="#231f20" stroke="#231f20" stroke-width="0.16" transform="rotate(-45 246.4 370.4)">HbS</text>
<text x="264.7" y="370.4" font-size="8.5" text-anchor="end" fill="#231f20" stroke="#231f20" stroke-width="0.16" transform="rotate(-45 264.7 370.4)">HbS + Catalase</text>
<text x="284.5" y="370.4" font-size="8.5" text-anchor="end" fill="#231f20" stroke="#231f20" stroke-width="0.16" transform="rotate(-45 284.5 370.4)">HbS + SOD</text>
<text x="302.9" y="370.4" font-size="8.5" text-anchor="end" fill="#231f20" stroke="#231f20" stroke-width="0.16" transform="rotate(-45 302.9 370.4)">HbS + L-NAME</text>
<text x="320" y="370.4" font-size="8.5" text-anchor="end" fill="#231f20" stroke="#231f20" stroke-width="0.16" transform="rotate(-45 320 370.4)">HbS + ODQ</text>
<text x="338.6" y="370.4" font-size="8.5" text-anchor="end" fill="#231f20" stroke="#231f20" stroke-width="0.16" transform="rotate(-45 338.6 370.4)">HbS + NONOate</text>
<line x1="244.8" y1="244.5" x2="337" y2="244.5" stroke="#231f20" stroke-width="0.9"/>
<line x1="244.8" y1="244.05" x2="244.8" y2="246.7" stroke="#231f20" stroke-width="0.85"/>
<line x1="337" y1="244.05" x2="337" y2="246.7" stroke="#231f20" stroke-width="0.85"/>
<text x="291.6" y="242.1" font-size="7" text-anchor="middle" fill="#231f20" stroke="#231f20" stroke-width="0.16" textLength="8.6" lengthAdjust="spacingAndGlyphs" font-style="italic">NS</text>
<line x1="396.3" y1="235.7" x2="396.3" y2="358.8" stroke="#231f20" stroke-width="1.1"/>
<line x1="393.3" y1="358.3" x2="396.3" y2="358.3" stroke="#231f20" stroke-width="1.0"/>
<text x="390.1" y="361.2" font-size="8.4" text-anchor="end" fill="#231f20" stroke="#231f20" stroke-width="0.16">0</text>
<line x1="393.3" y1="328.4" x2="396.3" y2="328.4" stroke="#231f20" stroke-width="1.0"/>
<text x="390.1" y="331.3" font-size="8.4" text-anchor="end" fill="#231f20" stroke="#231f20" stroke-width="0.16">1000</text>
<line x1="393.3" y1="298.5" x2="396.3" y2="298.5" stroke="#231f20" stroke-width="1.0"/>
<text x="390.1" y="301.4" font-size="8.4" text-anchor="end" fill="#231f20" stroke="#231f20" stroke-width="0.16">2000</text>
<line x1="393.3" y1="268.6" x2="396.3" y2="268.6" stroke="#231f20" stroke-width="1.0"/>
<text x="390.1" y="271.5" font-size="8.4" text-anchor="end" fill="#231f20" stroke="#231f20" stroke-width="0.16">3000</text>
<line x1="393.3" y1="238.7" x2="396.3" y2="238.7" stroke="#231f20" stroke-width="1.0"/>
<text x="390.1" y="241.6" font-size="8.4" text-anchor="end" fill="#231f20" stroke="#231f20" stroke-width="0.16">4000</text>
<line x1="395.8" y1="358.3" x2="488.7" y2="358.3" stroke="#231f20" stroke-width="1.1"/>
<text x="365.1" y="296.5" font-size="8.2" text-anchor="middle" fill="#231f20" stroke="#231f20" stroke-width="0.16" transform="rotate(-90 365.1 296.5)" textLength="40" lengthAdjust="spacingAndGlyphs">IL-6 (pg/ml)</text>
<rect x="406.6" y="353.35" width="17.2" height="4.95" fill="#164c85" stroke="#0e2f55" stroke-width="0.5" stroke-opacity="0.6"/>
<rect x="434.2" y="264.45" width="17.2" height="93.85" fill="#c8002b" stroke="#8a0018" stroke-width="0.5" stroke-opacity="0.6"/>
<rect x="461.8" y="266.05" width="17.2" height="92.25" fill="url(#rh)" stroke="#8a0018" stroke-width="0.5" stroke-opacity="0.6"/>
<line x1="415.2" y1="353.1" x2="415.2" y2="352.4" stroke="#231f20" stroke-width="0.9"/>
<line x1="413.2" y1="352.4" x2="417.2" y2="352.4" stroke="#231f20" stroke-width="0.9"/>
<line x1="442.8" y1="267" x2="442.8" y2="261.6" stroke="#231f20" stroke-width="0.9"/>
<line x1="440.3" y1="261.6" x2="445.3" y2="261.6" stroke="#231f20" stroke-width="0.9"/>
<line x1="470.4" y1="268" x2="470.4" y2="263.5" stroke="#231f20" stroke-width="0.9"/>
<line x1="467.65" y1="263.5" x2="473.15" y2="263.5" stroke="#231f20" stroke-width="0.9"/>
<circle cx="407.6" cy="353.4" r="1.15" fill="#000"/>
<circle cx="414.8" cy="351.5" r="1.15" fill="#000"/>
<circle cx="422.5" cy="352.9" r="1.15" fill="#000"/>
<circle cx="438.5" cy="259.7" r="1.15" fill="#000"/>
<circle cx="446.4" cy="263.2" r="1.15" fill="#000"/>
<circle cx="442.7" cy="267.5" r="1.15" fill="#000"/>
<circle cx="470.2" cy="260.6" r="1.15" fill="#000"/>
<circle cx="467.6" cy="267.8" r="1.15" fill="#000"/>
<circle cx="472.3" cy="267.5" r="1.15" fill="#000"/>
<line x1="415.2" y1="358.3" x2="415.2" y2="361.3" stroke="#231f20" stroke-width="0.9"/>
<line x1="442.8" y1="358.3" x2="442.8" y2="361.3" stroke="#231f20" stroke-width="0.9"/>
<line x1="470.4" y1="358.3" x2="470.4" y2="361.3" stroke="#231f20" stroke-width="0.9"/>
<text x="417.6" y="370.2" font-size="8.5" text-anchor="end" fill="#231f20" stroke="#231f20" stroke-width="0.16" transform="rotate(-45 417.6 370.2)">CTL</text>
<text x="445.2" y="370.2" font-size="8.5" text-anchor="end" fill="#231f20" stroke="#231f20" stroke-width="0.16" transform="rotate(-45 445.2 370.2)">HbS</text>
<text x="472.8" y="370.2" font-size="8.5" text-anchor="end" fill="#231f20" stroke="#231f20" stroke-width="0.16" transform="rotate(-45 472.8 370.2)">HbS + Hemopexin</text>
<line x1="442.1" y1="246.5" x2="470.4" y2="246.5" stroke="#231f20" stroke-width="0.9"/>
<line x1="442.1" y1="246.05" x2="442.1" y2="248.7" stroke="#231f20" stroke-width="0.85"/>
<line x1="470.4" y1="246.05" x2="470.4" y2="248.7" stroke="#231f20" stroke-width="0.85"/>
<text x="456.95" y="244.1" font-size="7" text-anchor="middle" fill="#231f20" stroke="#231f20" stroke-width="0.16" textLength="8.6" lengthAdjust="spacingAndGlyphs" font-style="italic">NS</text>
</svg>
</body></html>
